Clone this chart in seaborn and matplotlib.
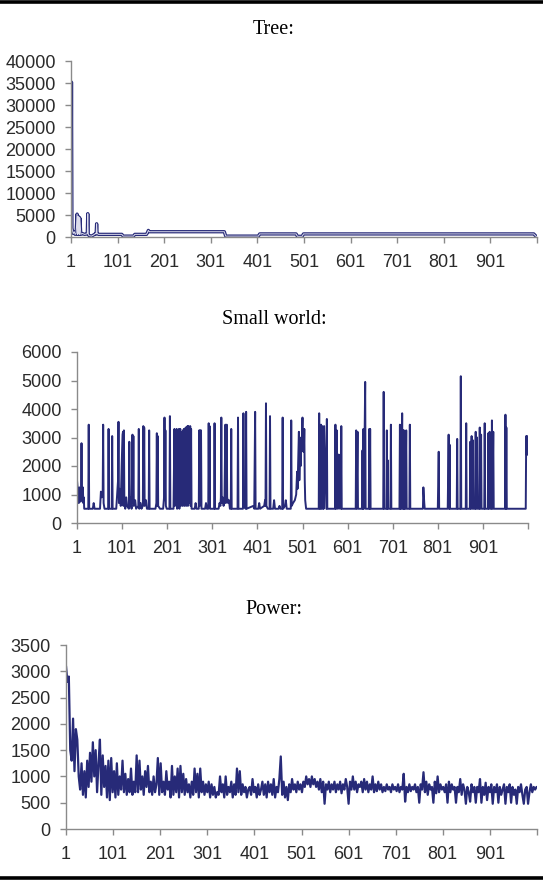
import numpy as np
import pandas as pd
import matplotlib
matplotlib.use("Agg")
import matplotlib.pyplot as plt
from matplotlib.lines import Line2D
import seaborn as sns

# ---------------- data ----------------
titles = ["Tree:", "Small world:", "Power:"]
x_tick_vals = [1, 101, 201, 301, 401, 501, 601, 701, 801, 901, 1001]
x_tick_labels = ["1", "101", "201", "301", "401", "501", "601", "701", "801", "901", ""]

tree_x = [1, 2, 3, 4, 6, 8, 10, 12, 14, 15, 16, 17, 18, 19, 20, 22, 25, 30, 35, 36, 37, 38,
          40, 45, 50, 54, 55, 56, 57, 60, 110, 113, 135, 138, 163, 165, 167, 169,
          330, 333, 403, 406, 484, 487, 497, 500, 994, 1000]
tree_y = [1000, 35200, 2000, 1500, 800, 1200, 600, 800, 5200, 600, 4700, 700, 4500, 600, 4300,
          600, 800, 600, 700, 800, 5300, 600, 300, 200, 500, 800, 700, 3000, 800, 600,
          600, 200, 200, 600, 600, 1000, 1500, 1200, 1200, 200, 200, 700, 700, 150, 150,
          700, 700, 50]
tree_yticks = [0, 5000, 10000, 15000, 20000, 25000, 30000, 35000, 40000]

sw_x = [1, 2, 3, 4, 5, 6, 7, 8, 9, 10, 11, 12, 13, 14, 15, 16, 17, 26, 27, 28, 36, 38, 40,
        52, 54, 56, 58, 59, 60, 62, 70, 71, 72, 78, 79, 80, 88, 90, 92, 93, 94, 96, 98,
        100, 102, 103, 104, 105, 106, 108, 110, 112, 116, 117, 118, 120, 122, 124, 125,
        126, 127, 130, 132, 137, 138, 139, 142, 144, 147, 148, 149, 150, 151, 154, 156,
        160, 161, 162, 175, 177, 178, 179, 180, 181, 185, 192, 194, 195, 196, 197, 198,
        200, 206, 207, 208, 215, 217, 218, 221, 222, 223, 226, 227, 228, 230, 231, 233,
        234, 235, 236, 237, 238, 239, 240, 241, 242, 243, 244, 245, 246, 247, 248, 249,
        250, 251, 252, 253, 254, 255, 258, 262, 264, 266, 271, 272, 273, 274, 275, 276,
        277, 285, 287, 289, 292, 293, 294, 295, 296, 305, 306, 307, 315, 317, 319, 320,
        321, 322, 324, 326, 328, 330, 331, 333, 334, 336, 338, 340, 342, 343, 344, 357,
        358, 359, 369, 370, 371, 375, 376, 377, 392, 394, 396, 397, 403, 405, 407, 416,
        418, 419, 420, 421, 424, 428, 429, 430, 436, 438, 440, 448, 450, 452, 456, 457,
        458, 462, 464, 466, 475, 476, 477, 480, 484, 487, 489, 490, 492, 493, 494, 495,
        496, 497, 498, 499, 500, 501, 502, 503, 504, 505, 506, 507, 509, 537, 538, 539,
        541, 542, 543, 545, 546, 547, 548, 549, 554, 555, 556, 573, 574, 575, 577, 578,
        581, 582, 585, 586, 587, 588, 619, 620, 621, 623, 624, 633, 634, 635, 636, 637,
        639, 640, 641, 648, 649, 650, 651, 652, 680, 681, 682, 687, 688, 689, 690, 691,
        696, 697, 698, 716, 717, 718, 719, 720, 722, 723, 724, 725, 726, 727, 728, 729,
        731, 732, 738, 739, 740, 768, 769, 771, 772, 801, 803, 804, 823, 825, 826, 827,
        828, 843, 844, 845, 851, 852, 853, 863, 864, 865, 872, 873, 874, 876, 877, 879,
        880, 884, 885, 886, 888, 889, 893, 894, 895, 897, 898, 904, 905, 906, 912, 913,
        914, 916, 917, 920, 921, 922, 924, 925, 950, 951, 952, 953, 954, 996, 997, 998,
        999, 1000]
sw_y = [1500, 1300, 800, 1200, 700, 1250, 900, 1100, 750, 1250, 2800, 1200, 900, 1250, 700,
        900, 500, 500, 3450, 500, 500, 700, 500,
        500, 1100, 900, 1000, 3450, 700, 500, 500, 3300, 500, 500, 3050, 500, 500, 1000, 1500,
        3550, 700, 1200, 600,
        2000, 3100, 3200, 600, 3250, 800, 500, 900, 600, 500, 2850, 600, 900, 500, 3100, 700,
        3050, 600, 800, 500, 600, 3300, 500, 700, 500, 600, 3400, 900, 3350, 600, 800, 500,
        500, 3250, 500, 500, 700, 3150, 600, 3050, 600, 500, 500, 900, 3700, 800, 3250, 600,
        500, 500, 3750, 500, 500, 3300, 600, 800, 3300, 500, 700, 3300, 500, 3300, 600, 900,
        3200, 600, 3250, 700, 3300, 600, 3300, 700, 3350, 600, 3350, 800, 3400, 600, 3400, 700,
        3350, 900, 3400, 600, 3300, 500, 500, 500, 700, 500, 500, 3250, 600, 3250, 700, 3250,
        500, 500, 700, 500, 500, 3500, 600, 3400, 500, 500, 3500, 500, 500, 700, 600, 900,
        3700, 700, 900, 600, 800, 3450, 700, 3450, 900, 700, 800, 500, 500, 3300, 500, 500,
        3700, 500, 500, 3850, 600, 500, 3900, 500, 600, 500, 3900, 500, 500, 700, 500, 600,
        800, 600, 4200, 600, 500, 500, 3750, 500, 500, 800, 500, 500, 600, 500, 500, 3700,
        500, 600, 800, 500, 500, 3600, 600, 700, 800, 1000, 1800, 1200, 2500, 3200, 1500, 2200,
        2800, 2000, 3000, 2500, 3200, 3700, 2800, 3300, 2500, 3300, 1500, 800, 500, 500, 3850, 500,
        500, 3450, 500, 3400, 500, 3300, 500, 3400, 500, 3650, 500, 500, 3450, 500, 3250, 500,
        2400, 500, 2400, 500, 3400, 500, 500, 3250, 500, 3200, 500, 500, 2550, 500, 3300, 500,
        3350, 4950, 500, 500, 3300, 500, 3300, 500, 500, 4600, 500, 500, 3250, 500, 2200, 500,
        500, 3450, 500, 500, 3450, 500, 3200, 500, 3850, 500, 3250, 500, 3250, 500, 2500, 500,
        3250, 500, 500, 3450, 500, 500, 1250, 700, 500, 500, 2500, 500, 500, 3100, 500, 2750,
        500, 500, 2950, 500, 500, 5150, 500, 500, 3500, 500, 500, 2850, 500, 3050, 500, 2900,
        500, 500, 3200, 500, 3000, 500, 500, 3350, 500, 3100, 500, 500, 3500, 500, 500, 3150,
        500, 3200, 500, 500, 3600, 500, 3200, 500, 500, 3800, 500, 3350, 500, 500, 3050, 2400,
        3050, 2400]
sw_yticks = [0, 1000, 2000, 3000, 4000, 5000, 6000]

power_x = list(range(1, 1001, 3))
power_y = [3100, 2800, 2900, 1500, 1300, 2100, 1100, 1900, 1700, 1000,
           750, 1250, 650, 1100, 600, 1300, 800, 1450, 900, 1650,
           1000, 1500, 700, 1250, 1700, 650, 1400, 800, 1200, 600,
           1300, 550, 1350, 700, 1100, 600, 1250, 650, 1000, 750,
           1300, 700, 1050, 650, 950, 700, 1150, 650, 900, 700,
           1400, 700, 1300, 750, 1000, 650, 1100, 800, 1200, 700,
           900, 650, 1000, 700, 850, 1350, 650, 1250, 700, 900,
           650, 1100, 750, 900, 600, 1200, 650, 1000, 700, 1150,
           600, 1200, 700, 1050, 650, 950, 700, 850, 600, 900,
           650, 1150, 700, 1050, 600, 1150, 700, 900, 650, 850,
           700, 900, 600, 850, 650, 800, 600, 700, 650, 1000,
           700, 850, 600, 1000, 650, 800, 700, 900, 600, 850,
           650, 1150, 700, 1100, 650, 850, 700, 800, 600, 750,
           800, 650, 950, 700, 800, 600, 850, 650, 750, 900,
           650, 850, 600, 900, 700, 850, 650, 950, 600, 800,
           700, 950, 1380, 650, 900, 600, 800, 550, 850, 700,
           950, 750, 850, 700, 900, 750, 850, 700, 900, 800,
           1000, 850, 950, 800, 1000, 850, 950, 800, 900, 750,
           950, 700, 900, 480, 850, 750, 900, 700, 850, 750,
           900, 700, 850, 750, 900, 680, 850, 750, 950, 800,
           480, 900, 750, 1000, 750, 900, 700, 850, 800, 900,
           700, 950, 750, 900, 700, 850, 750, 1000, 700, 850,
           720, 900, 750, 850, 700, 800, 720, 850, 750, 800,
           700, 850, 750, 800, 720, 850, 700, 800, 750, 1050,
           520, 800, 700, 850, 720, 800, 750, 850, 700, 800,
           500, 850, 750, 1080, 700, 900, 650, 850, 750, 800,
           500, 900, 680, 1000, 700, 850, 750, 800, 700, 850,
           500, 900, 700, 850, 750, 800, 500, 800, 700, 950,
           650, 850, 750, 480, 800, 700, 520, 850, 700, 800,
           500, 800, 700, 950, 500, 800, 650, 880, 550, 800,
           700, 850, 480, 800, 700, 850, 500, 800, 650, 750,
           850, 480, 800, 700, 850, 500, 800, 650, 750, 480,
           800, 700, 850, 650, 480, 750, 800, 480, 700, 850,
           700, 800, 750, 800]
power_yticks = [0, 500, 1000, 1500, 2000, 2500, 3000, 3500]

# ---------------- figure ----------------
sns.set_theme(style="white")
plt.rcParams["font.family"] = ["Liberation Sans", "DejaVu Sans"]

W, H = 543, 881
fig = plt.figure(figsize=(W / 100, H / 100), dpi=100)
fig.patch.set_facecolor("white")

NAVY = "#272a78"
SPINE = "#8a8a8a"
LABEL = "#2a2a2a"

# axes boxes in pixels: left, right, top(ymax), bottom(0)
boxes = [(71, 537, 61, 237), (77, 528, 352, 523), (66, 537, 645, 829)]
series = [(tree_x, tree_y, tree_yticks), (sw_x, sw_y, sw_yticks), (power_x, power_y, power_yticks)]
title_y = [30, 319, 610]

for (l, r, t, b), (xs, ys, yt), ttl, ty in zip(boxes, series, titles, title_y):
    ax = fig.add_axes([l / W, 1 - b / H, (r - l) / W, (b - t) / H])
    df = pd.DataFrame({"x": xs, "y": ys})
    if ttl == "Tree:":
        sns.lineplot(data=df, x="x", y="y", ax=ax, color=NAVY, lw=2.4,
                     estimator=None, sort=False)
        sns.lineplot(data=df, x="x", y="y", ax=ax, color="#dcdcec", lw=0.7,
                     estimator=None, sort=False)
    elif ttl == "Power:":
        sns.lineplot(data=df, x="x", y="y", ax=ax, color=NAVY, lw=1.6,
                     estimator=None, sort=False)
    else:
        sns.lineplot(data=df, x="x", y="y", ax=ax, color=NAVY, lw=1.4,
                     estimator=None, sort=False)
    ax.set_xlim(1, 1001)
    ax.set_ylim(yt[0], yt[-1])
    ax.set_xticks(x_tick_vals)
    ax.set_xticklabels(x_tick_labels)
    ax.set_yticks(yt)
    ax.set_yticklabels([str(v) for v in yt])
    ax.set_xlabel("")
    ax.set_ylabel("")
    ax.set_facecolor("none")
    for s in ["top", "right"]:
        ax.spines[s].set_visible(False)
    for s in ["left", "bottom"]:
        ax.spines[s].set_color(SPINE)
        ax.spines[s].set_linewidth(1.0)
    ax.tick_params(axis="y", direction="out", length=4, width=1.0, color=SPINE,
                   labelsize=13, labelcolor=LABEL, pad=7, left=True)
    ax.tick_params(axis="x", direction="out", length=4, width=1.0, color=SPINE,
                   labelsize=13, labelcolor=LABEL, pad=8, bottom=True)
    ax.grid(False)
    fig.text(274 / W, 1 - ty / H, ttl, ha="center", va="center",
             fontsize=14.5, family=["Liberation Serif", "DejaVu Serif"], color="black")

# horizontal rules at top and bottom
fig.add_artist(Line2D([0, 1], [1 - 2 / H, 1 - 2 / H], transform=fig.transFigure,
                      color="black", lw=2.6))
fig.add_artist(Line2D([0, 1], [1 - 878 / H, 1 - 878 / H], transform=fig.transFigure,
                      color="black", lw=2.6))

fig.savefig("out.png", dpi=100, facecolor="white")
